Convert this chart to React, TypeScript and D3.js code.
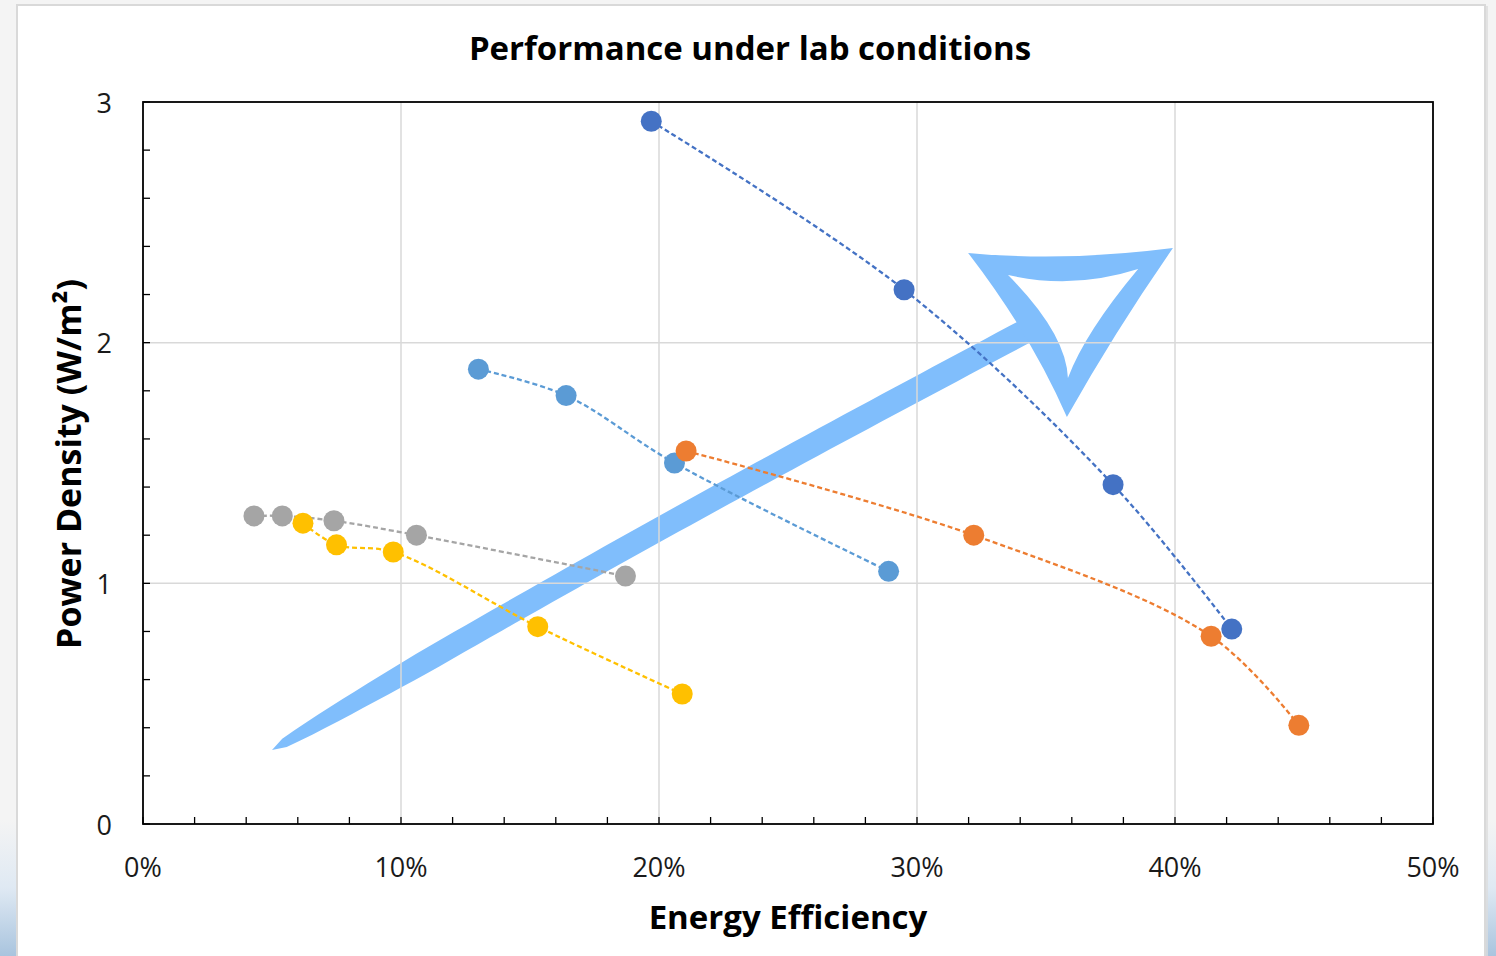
import React from "react";
import * as d3 from "d3";

// Tick values
const efficiencyTicks = [0, 0.1, 0.2, 0.3, 0.4, 0.5];
const densityTicks = [0, 1, 2, 3];

// Series values (energy efficiency as fraction, power density in W/m²)
const navyEfficiency = [0.197, 0.295, 0.376, 0.422];
const navyDensity = [2.92, 2.22, 1.41, 0.81];

const skyEfficiency = [0.130, 0.164, 0.206, 0.289];
const skyDensity = [1.89, 1.78, 1.50, 1.05];

const orangeEfficiency = [0.2105, 0.322, 0.414, 0.448];
const orangeDensity = [1.55, 1.2, 0.78, 0.41];

const greyEfficiency = [0.043, 0.054, 0.074, 0.106, 0.187];
const greyDensity = [1.28, 1.28, 1.26, 1.2, 1.03];

const goldEfficiency = [0.062, 0.075, 0.097, 0.153, 0.209];
const goldDensity = [1.25, 1.16, 1.13, 0.82, 0.54];

// Hand-drawn trend arrow, anchored in data units
const arrowTail: [number, number] = [0.05, 0.307];
const arrowNeck: [number, number] = [0.343, 2.053];
// corner, control, corner, control, corner, control
const arrowHeadOuter: [number, number][] = [
  [0.3198, 2.373], [0.3566, 2.335], [0.3992, 2.393],
  [0.3771, 2.053], [0.3581, 1.691], [0.3444, 2.03],
];
const arrowHeadInner: [number, number][] = [
  [0.3353, 2.281], [0.3605, 2.219], [0.3857, 2.306],
  [0.3651, 2.042], [0.3585, 1.853], [0.3578, 2.038],
];

const series = [
  { color: "#4472C4", xs: navyEfficiency, ys: navyDensity },
  { color: "#5B9BD5", xs: skyEfficiency, ys: skyDensity },
  { color: "#ED7D31", xs: orangeEfficiency, ys: orangeDensity },
  { color: "#A5A5A5", xs: greyEfficiency, ys: greyDensity },
  { color: "#FFC000", xs: goldEfficiency, ys: goldDensity },
];

const W = 1496;
const H = 956;
const plot = { left: 143, right: 1433, top: 102, bottom: 824 };
const FONT = "'Open Sans', 'Noto Sans', sans-serif";

export default function App() {
  const x = d3.scaleLinear().domain([0, 0.5]).range([plot.left, plot.right]);
  const y = d3.scaleLinear().domain([0, 3]).range([plot.bottom, plot.top]);

  const line = d3
    .line<[number, number]>()
    .x((d) => x(d[0]))
    .y((d) => y(d[1]))
    .curve(d3.curveCatmullRom.alpha(0.5));

  // tapered shaft of the arrow
  const tx = x(arrowTail[0]);
  const ty = y(arrowTail[1]);
  const nx = x(arrowNeck[0]);
  const ny = y(arrowNeck[1]);
  const len = Math.hypot(nx - tx, ny - ty);
  const ux = (nx - tx) / len;
  const uy = (ny - ty) / len;
  const px = uy; // perpendicular pointing up-left
  const py = -ux;
  const upper: [number, number][] = [];
  const lower: [number, number][] = [];
  const steps = 60;
  for (let i = 0; i <= steps; i++) {
    const t = i / steps;
    const bow = 5 * Math.sin(Math.PI * t);
    const hw = 11 * Math.pow(Math.min(t / 0.2, 1), 0.35) + 1.2 * t;
    const cx = tx + ux * len * t + px * bow;
    const cy = ty + uy * len * t + py * bow;
    upper.push([cx + px * hw, cy + py * hw]);
    lower.push([cx - px * hw, cy - py * hw]);
  }
  const shaftPath =
    "M" + upper.map((p) => p.join(",")).join("L") +
    "L" + lower.reverse().map((p) => p.join(",")).join("L") + "Z";

  const loop = (pts: [number, number][]) => {
    const P = pts.map((p) => [x(p[0]), y(p[1])]);
    return (
      `M${P[0][0]},${P[0][1]}` +
      `Q${P[1][0]},${P[1][1]} ${P[2][0]},${P[2][1]}` +
      `Q${P[3][0]},${P[3][1]} ${P[4][0]},${P[4][1]}` +
      `Q${P[5][0]},${P[5][1]} ${P[0][0]},${P[0][1]}Z`
    );
  };
  const headPath = loop(arrowHeadOuter) + loop(arrowHeadInner);

  const minorX = d3.range(0, 0.5001, 0.02);
  const minorY = d3.range(0, 3.0001, 0.2);

  return (
    <svg
      width={W}
      height={H}
      style={{ position: "absolute", left: 0, top: 0, display: "block" }}
      fontFamily={FONT}
    >
      <defs>
        <linearGradient id="sea" x1="0" y1="0" x2="0" y2="1">
          <stop offset="0" stopColor="#f4f4f4" />
          <stop offset="0.5" stopColor="#dfe9f3" />
          <stop offset="1" stopColor="#a9c4de" />
        </linearGradient>
      </defs>
      <rect x={0} y={0} width={W} height={H} fill="#f4f4f4" />
      <rect x={0} y={820} width={W} height={H - 820} fill="url(#sea)" />
      <rect x={17} y={5} width={1468} height={H} fill="#ffffff" stroke="#d9d9d9" strokeWidth={2} />
      <line x1={1487} x2={1487} y1={6} y2={H} stroke="#dcdcdc" strokeWidth={1.5} />

      {/* trend arrow behind the chart */}
      <g fill="#80BEFC">
        <path d={shaftPath} />
        <path d={headPath} fillRule="evenodd" />
      </g>

      {/* gridlines */}
      <g stroke="#d9d9d9" strokeWidth={1.5}>
        {efficiencyTicks.slice(1, -1).map((v) => (
          <line key={v} x1={x(v)} x2={x(v)} y1={plot.top} y2={plot.bottom} />
        ))}
        {densityTicks.slice(1, -1).map((v) => (
          <line key={v} x1={plot.left} x2={plot.right} y1={y(v)} y2={y(v)} />
        ))}
      </g>

      {/* inner minor ticks */}
      <g stroke="#000" strokeWidth={1.3}>
        {minorX.map((v, i) => (
          <line key={"mx" + i} x1={x(v)} x2={x(v)} y1={plot.bottom} y2={plot.bottom - 7} />
        ))}
        {minorY.map((v, i) => (
          <line key={"my" + i} x1={plot.left} x2={plot.left + 7} y1={y(v)} y2={y(v)} />
        ))}
      </g>

      <rect
        x={plot.left}
        y={plot.top}
        width={plot.right - plot.left}
        height={plot.bottom - plot.top}
        fill="none"
        stroke="#000"
        strokeWidth={1.8}
      />

      {/* series */}
      {series.map((s, si) => {
        const pts = s.xs.map((v, i) => [v, s.ys[i]] as [number, number]);
        return (
          <g key={si}>
            <path
              d={line(pts) || ""}
              fill="none"
              stroke={s.color}
              strokeWidth={2.3}
              strokeDasharray="5,3"
            />
            {pts.map((p, i) => (
              <circle key={i} cx={x(p[0])} cy={y(p[1])} r={10.5} fill={s.color} />
            ))}
          </g>
        );
      })}

      {/* tick labels */}
      <g fontSize={27} fill="#1a1a1a">
        {efficiencyTicks.map((v) => (
          <text key={v} x={x(v)} y={866} textAnchor="middle" dominantBaseline="central">
            {d3.format(".0%")(v)}
          </text>
        ))}
        {densityTicks.map((v) => (
          <text key={v} x={112} y={y(v)} textAnchor="end" dominantBaseline="central">
            {v}
          </text>
        ))}
      </g>

      <text x={750} y={47} textAnchor="middle" dominantBaseline="central" fontSize={33} fontWeight={700} fill="#000">
        Performance under lab conditions
      </text>
      <text x={788} y={916} textAnchor="middle" dominantBaseline="central" fontSize={33} fontWeight={700} fill="#000">
        Energy Efficiency
      </text>
      <text
        transform={`translate(68,464) rotate(-90)`}
        textAnchor="middle"
        dominantBaseline="central"
        fontSize={34}
        fontWeight={700}
        fill="#000"
      >
        Power Density (W/m²)
      </text>
    </svg>
  );
}
